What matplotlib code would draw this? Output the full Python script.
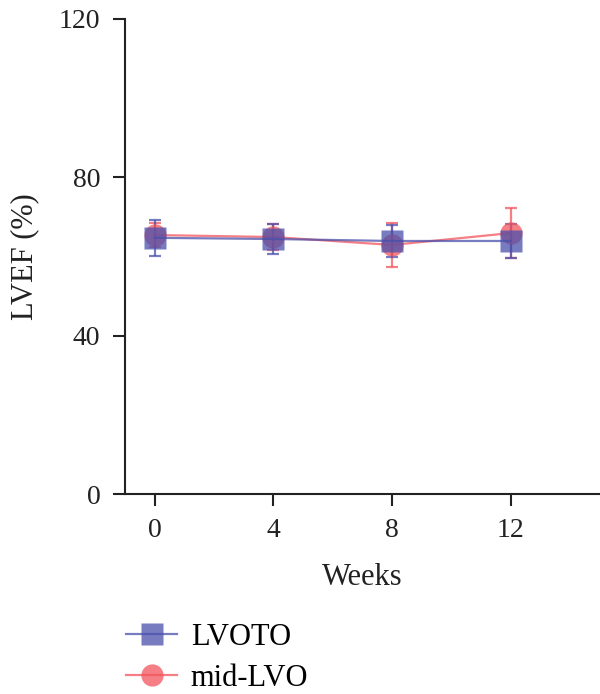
import matplotlib
matplotlib.use('Agg')
import matplotlib.pyplot as plt
from matplotlib.lines import Line2D

plt.rcParams['font.family'] = ['Liberation Serif', 'DejaVu Serif']

# Data
weeks = [0, 4, 8, 12]
lvoto_mean = [64.7, 64.4, 63.9, 63.9]
lvoto_err = [4.5, 3.9, 4.0, 4.2]
mid_mean = [65.4, 64.9, 62.9, 65.9]
mid_err = [3.0, 3.2, 5.6, 6.3]

blue = '#4a50ab'
red = '#f2545c'
ink = '#222222'

fig = plt.figure(figsize=(6.0, 6.94), dpi=100)
ax = fig.add_axes([0.208, 0.288, 0.792, 0.685])

# Mid-LVO
ax.errorbar(weeks, mid_mean, yerr=mid_err, color=red, marker='o', markersize=16,
            markerfacecolor=red, markeredgecolor='none', alpha=0.75,
            lw=1.6, elinewidth=1.6, capsize=4.5, capthick=1.6)
# LVOTO
ax.errorbar(weeks, lvoto_mean, yerr=lvoto_err, color=blue, marker='s', markersize=16,
            markerfacecolor=blue, markeredgecolor='none', alpha=0.75,
            lw=1.6, elinewidth=1.6, capsize=4.5, capthick=1.6)

ax.set_xlim(-1, 15)
ax.set_ylim(0, 120)
ax.set_xticks(weeks)
ax.set_yticks([0, 40, 80, 120])
ax.spines['top'].set_visible(False)
ax.spines['right'].set_visible(False)
for s in ['left', 'bottom']:
    ax.spines[s].set_linewidth(1.5)
    ax.spines[s].set_color(ink)
ax.tick_params(width=1.5, length=8.5, labelsize=20, color=ink, labelcolor=ink)
ax.tick_params(axis='y', pad=9)
ax.tick_params(axis='x', pad=9)
ax.set_xlabel('Weeks', fontsize=22, color=ink, labelpad=14)
ax.set_ylabel('LVEF (%)', fontsize=22, color=ink, labelpad=14)

handles = [
    Line2D([], [], color=blue, marker='s', markersize=16, markeredgecolor='none', alpha=0.75, lw=1.6),
    Line2D([], [], color=red, marker='o', markersize=16, markeredgecolor='none', alpha=0.75, lw=1.6),
]
fig.legend(handles, ['LVOTO', 'mid-LVO'], loc='lower left', bbox_to_anchor=(0.21, 0.002),
           borderaxespad=0, borderpad=0, frameon=False, fontsize=22,
           handlelength=1.67, handletextpad=0.45, labelspacing=0.38)

fig.savefig('out.png', dpi=100)
